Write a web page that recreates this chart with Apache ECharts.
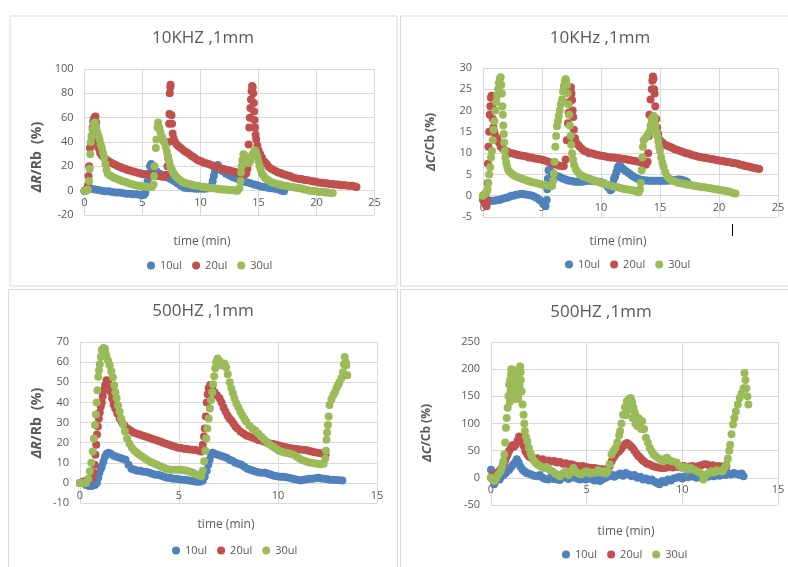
<!DOCTYPE html>
<html><head><meta charset="utf-8">
<script src="https://cdn.jsdelivr.net/npm/echarts@6/dist/echarts.min.js"></script>
<style>html,body{margin:0;padding:0;background:#fff}#c{width:788px;height:567px}</style>
</head><body><div id="c"></div>
<script>
// ---------- data (time in min, value in %) ----------
const seriesNames = ['10ul', '20ul', '30ul'];
const titles = ['10KHZ ,1mm', '10KHz ,1mm', '500HZ ,1mm', '500HZ ,1mm'];
const xTicks25 = [0, 5, 10, 15, 20, 25];
const xTicks15 = [0, 5, 10, 15];

// Panel 1: 10KHZ, dR/Rb
const p1_10ul = [[0,0],[0.2,1],[0.4,2],[0.6,1.5],[0.9,1],[1.2,0.5],[1.5,0],[1.8,-0.5],[2.1,-0.5],[2.4,-1],[2.7,-1.5],[3,-1.5],[3.3,-2],[3.6,-2.5],[3.9,-2.5],[4.2,-3],[4.5,-3],[4.8,-3.5],[5.1,-3.5],[5.25,-2],[5.35,2],[5.45,8],[5.55,14],[5.65,20],[5.75,22],[5.9,19],[6.2,16],[6.5,14],[6.8,12.5],[7.1,11],[7.4,9.5],[7.7,8],[8,6],[8.3,4],[8.6,2.5],[8.9,2],[9.2,2],[9.5,1.5],[9.8,1.5],[10.1,1.5],[10.4,1.5],[10.7,2],[10.95,4],[11.05,8],[11.15,12],[11.25,16],[11.35,19],[11.5,21],[11.7,18],[11.9,16],[12.2,14],[12.5,12.5],[12.8,11],[13.1,10],[13.4,8.5],[13.7,7.5],[14,7],[14.3,6],[14.6,5],[14.9,4.5],[15.2,3.5],[15.5,3],[15.8,2.5],[16.1,2],[16.4,1.5],[16.7,1],[17,0],[17.2,-0.5]];
const p1_20ul = [[0,0],[0.15,1],[0.3,4],[0.35,12],[0.4,20],[0.47,35],[0.57,37],[0.65,45],[0.7,52],[0.75,57],[0.85,60],[0.95,61],[1.0,56],[1.05,48],[1.1,40],[1.2,35],[1.35,31],[1.5,29],[1.7,27],[1.9,25.5],[2.1,24],[2.3,23],[2.5,22],[2.7,21],[2.9,20],[3.1,19.5],[3.3,18.5],[3.5,18],[3.7,17],[3.9,16.5],[4.1,16],[4.3,15.5],[4.5,15],[4.7,14.5],[4.9,14],[5.1,13.5],[5.3,13.5],[5.5,13],[5.7,13],[5.9,12.5],[6.1,12.5],[6.3,12],[6.5,12],[6.7,11.5],[6.9,11.5],[7.05,13],[7.15,20],[7.2,27],[7.25,40],[7.3,55],[7.32,63],[7.35,80],[7.4,85],[7.42,87],[7.5,62],[7.55,55],[7.6,47],[7.68,43],[7.8,40],[7.95,38],[8.1,36.5],[8.3,35],[8.5,33.5],[8.7,32],[8.9,31],[9.1,29.5],[9.3,28],[9.5,27],[9.7,25.5],[9.9,24.5],[10.1,24],[10.3,23],[10.5,22.5],[10.7,22],[10.9,21],[11.1,20.5],[11.3,20],[11.5,19],[11.7,18.5],[11.9,18],[12.1,17.5],[12.3,17],[12.5,16.5],[12.7,16],[12.9,15.5],[13.1,15],[13.3,14.5],[13.5,14],[13.7,13.5],[13.85,13.5],[13.95,14.5],[14.05,18],[14.1,25],[14.15,38],[14.2,52],[14.25,60],[14.3,68],[14.35,75],[14.4,82],[14.45,86],[14.5,85],[14.55,80],[14.6,72],[14.62,65],[14.65,58],[14.7,52],[14.75,46],[14.8,42],[14.9,37],[15,33],[15.15,30],[15.3,27],[15.5,24],[15.7,22],[15.9,19.5],[16.1,18],[16.3,17],[16.5,16],[16.7,15],[16.9,14.5],[17.1,13.5],[17.3,13],[17.5,12.5],[17.7,12],[17.9,11],[18.1,10.5],[18.3,10],[18.5,9.5],[18.7,9.5],[18.9,9],[19.1,8.5],[19.3,8.5],[19.5,8],[19.7,7.5],[19.9,7.5],[20.1,7],[20.3,6.5],[20.5,6.5],[20.7,6],[20.9,6],[21.1,5.5],[21.3,5.5],[21.5,5],[21.7,5],[21.9,5],[22.1,4.5],[22.3,4.5],[22.5,4.5],[22.7,4],[22.9,4],[23.1,4],[23.3,3.5],[23.45,3]];
const p1_30ul = [[0,0],[0.15,0],[0.3,1],[0.4,8],[0.45,18],[0.5,30],[0.55,40],[0.6,45],[0.7,50],[0.8,55],[0.9,56],[1.0,52],[1.1,48],[1.2,45],[1.3,42],[1.4,38],[1.5,35],[1.6,31],[1.7,27],[1.8,22],[1.9,17],[2.0,14],[2.2,12.5],[2.4,11.5],[2.6,10.5],[2.8,9.5],[3.0,9],[3.2,8],[3.4,7.5],[3.6,7],[3.8,6],[4.0,5.5],[4.2,5],[4.4,4.5],[4.6,4],[4.8,4],[5.0,3.5],[5.2,3.5],[5.4,3],[5.6,3],[5.8,3],[5.95,5],[6.0,12],[6.03,20],[6.15,35],[6.2,42],[6.3,52],[6.35,56],[6.45,52],[6.55,48],[6.7,44],[6.85,40],[7.0,36],[7.1,32],[7.2,28],[7.3,24],[7.4,20],[7.5,18],[7.6,15.5],[7.7,14],[7.85,12],[8.0,10.5],[8.2,9],[8.4,7.5],[8.6,6.5],[8.8,6],[9.0,5.5],[9.2,5],[9.4,4.5],[9.6,4],[9.8,4],[10.0,3.5],[10.2,3],[10.4,3],[10.6,2.5],[10.8,2.5],[11.0,2],[11.2,2],[11.4,1.5],[11.6,1.5],[11.8,1],[12.0,1],[12.2,1],[12.4,0.5],[12.6,0.5],[12.8,0.5],[13.0,0],[13.2,0],[13.35,2],[13.45,8],[13.5,15],[13.55,20],[13.6,25],[13.7,30],[13.8,29],[13.9,27],[14.0,25],[14.1,23],[14.2,23],[14.3,25],[14.4,28],[14.5,30],[14.6,32],[14.7,33],[14.8,31],[14.9,28],[15.0,24],[15.1,20],[15.2,17],[15.3,14],[15.45,12],[15.6,10],[15.8,9],[16.0,7.5],[16.2,6.5],[16.4,6],[16.6,5.5],[16.8,5],[17.0,4.5],[17.2,4],[17.4,4],[17.6,3.5],[17.8,3],[18.0,3],[18.2,2.5],[18.4,2],[18.6,2],[18.8,1.5],[19.0,1],[19.2,0.5],[19.4,0],[19.6,0],[19.8,-0.5],[20.0,-0.5],[20.2,-1],[20.4,-1],[20.6,-1],[20.8,-1.5],[21.0,-1.5],[21.2,-2],[21.4,-2]];

// Panel 2: 10KHz, dC/Cb
const p2_10ul = [[0,0],[0.2,-0.5],[0.4,-1.2],[0.6,-1.2],[0.8,-1.2],[1.0,-1.2],[1.2,-1],[1.4,-1],[1.6,-0.8],[1.8,-0.6],[2.0,-0.5],[2.2,-0.3],[2.4,0],[2.6,0],[2.8,0.2],[3.0,0.3],[3.2,0.4],[3.4,0.4],[3.6,0.3],[3.8,0.2],[4.0,0.1],[4.2,0],[4.4,-0.3],[4.6,-0.6],[4.8,-1],[5.0,-1.4],[5.15,-2],[5.3,-2.5],[5.4,-1],[5.45,1.5],[5.5,4],[5.55,6],[5.65,6],[5.8,5.5],[6.0,5],[6.2,4.7],[6.4,4.5],[6.6,4.3],[6.8,4],[7.0,3.8],[7.2,3.6],[7.4,3.5],[7.6,3.4],[7.8,3.3],[8.0,3.3],[8.2,3.3],[8.4,3.3],[8.6,3.4],[8.8,3.5],[9.0,3.5],[9.2,3.5],[9.4,3.5],[9.6,3.4],[9.8,3.3],[10.0,3.2],[10.2,3],[10.4,2.6],[10.6,2],[10.8,1.3],[10.9,1.5],[11.0,2.8],[11.1,4],[11.2,4.5],[11.3,5.5],[11.4,6.5],[11.5,7],[11.7,6.8],[11.9,6.2],[12.1,5.8],[12.3,5.4],[12.5,5],[12.7,4.6],[12.9,4.3],[13.1,4],[13.3,3.8],[13.5,3.7],[13.7,3.6],[13.9,3.6],[14.1,3.5],[14.3,3.5],[14.5,3.5],[14.7,3.5],[14.9,3.5],[15.1,3.5],[15.3,3.5],[15.5,3.5],[15.7,3.6],[15.9,3.6],[16.1,3.7],[16.3,3.7],[16.5,3.8],[16.7,3.8],[16.9,3.7],[17.1,3.5],[17.3,3.2]];
const p2_20ul = [[0,-1],[0.1,-1.5],[0.2,-2],[0.3,-2.5],[0.35,-1],[0.4,3],[0.42,7.5],[0.46,11.5],[0.52,15],[0.57,19],[0.62,21],[0.67,23],[0.73,23.5],[0.78,21],[0.83,18],[0.88,16],[0.95,15],[1.05,14],[1.2,13.5],[1.35,12.5],[1.5,11.5],[1.7,11],[1.9,10.5],[2.1,10.3],[2.3,10],[2.5,10],[2.7,9.8],[2.9,9.6],[3.1,9.5],[3.3,9.4],[3.5,9.3],[3.7,9.2],[3.9,9],[4.1,9],[4.3,8.8],[4.5,8.7],[4.7,8.6],[4.9,8.5],[5.1,8.4],[5.3,8.2],[5.5,8],[5.7,7.8],[5.9,7.6],[6.1,7.4],[6.3,7.2],[6.5,7],[6.7,7],[6.85,7],[7.0,8.5],[7.1,13],[7.2,17],[7.26,19.5],[7.33,22],[7.4,25],[7.45,25.5],[7.5,24],[7.55,22.5],[7.6,20],[7.65,18.5],[7.7,15.5],[7.8,13.5],[7.9,12.5],[8.05,12],[8.2,11.5],[8.4,11],[8.6,10.5],[8.8,10.3],[9.0,10],[9.2,10],[9.4,9.8],[9.6,9.6],[9.8,9.5],[10.0,9.4],[10.2,9.3],[10.4,9.2],[10.6,9.1],[10.8,9],[11.0,9],[11.2,8.9],[11.4,8.8],[11.6,8.8],[11.8,8.7],[12.0,8.6],[12.2,8.5],[12.4,8.4],[12.6,8.3],[12.8,8.2],[13.0,8.1],[13.2,8],[13.4,7.8],[13.6,7.5],[13.8,7.3],[13.95,8],[14.0,10],[14.05,14],[14.1,19],[14.2,22.6],[14.3,25],[14.35,27],[14.4,28],[14.45,27.5],[14.5,25],[14.55,24],[14.6,21],[14.68,18],[14.75,16],[14.85,14.5],[15.0,13],[15.2,12.5],[15.4,12],[15.6,11.8],[15.8,11.5],[16.0,11.3],[16.2,11],[16.4,10.8],[16.6,10.6],[16.8,10.4],[17.0,10.2],[17.2,10],[17.4,9.9],[17.6,9.7],[17.8,9.5],[18.0,9.4],[18.2,9.2],[18.4,9.1],[18.6,9],[18.8,8.9],[19.0,8.8],[19.2,8.7],[19.4,8.6],[19.6,8.5],[19.8,8.4],[20.0,8.3],[20.2,8.2],[20.4,8.1],[20.6,8],[20.8,7.9],[21.0,7.8],[21.2,7.7],[21.4,7.6],[21.6,7.5],[21.8,7.3],[22.0,7.2],[22.2,7],[22.4,6.9],[22.6,6.8],[22.8,6.6],[23.0,6.5],[23.2,6.4],[23.4,6.3]];
const p2_30ul = [[0,0],[0.1,0.3],[0.2,0.5],[0.3,0.8],[0.38,1.5],[0.45,3],[0.52,5],[0.6,6.7],[0.68,9],[0.76,10.5],[0.82,13],[0.9,15.5],[0.97,17.5],[1.05,20],[1.12,22],[1.2,23.5],[1.28,25],[1.35,26.5],[1.42,27.5],[1.5,27.8],[1.55,26],[1.6,24],[1.64,21],[1.68,19],[1.72,16.5],[1.76,14.5],[1.8,12.5],[1.84,10.5],[1.9,9],[1.97,7.8],[2.05,6.8],[2.15,6],[2.3,5.5],[2.5,5],[2.7,4.7],[2.9,4.4],[3.1,4.2],[3.3,4],[3.5,3.8],[3.7,3.6],[3.9,3.4],[4.1,3.2],[4.3,3.1],[4.5,3],[4.7,2.8],[4.9,2.7],[5.1,2.6],[5.3,2.5],[5.5,2.4],[5.7,2.3],[5.85,2.3],[5.95,3.5],[6.0,5.2],[6.07,8],[6.13,11.5],[6.2,14],[6.27,16.3],[6.35,17.5],[6.42,18.7],[6.5,20],[6.6,21.5],[6.7,22.6],[6.78,24.5],[6.85,25.8],[6.93,26.8],[7.0,27.4],[7.06,27],[7.12,26],[7.18,24],[7.24,21.5],[7.3,19],[7.36,16.5],[7.42,14],[7.48,12],[7.55,10],[7.63,8.5],[7.72,7.2],[7.85,6.3],[8.0,5.6],[8.2,5],[8.4,4.7],[8.6,4.4],[8.8,4.2],[9.0,4],[9.2,3.8],[9.4,3.6],[9.6,3.4],[9.8,3.2],[10.0,3],[10.2,2.9],[10.4,2.7],[10.6,2.5],[10.8,2.4],[11.0,2.2],[11.2,2.1],[11.4,2],[11.6,1.9],[11.8,1.7],[12.0,1.6],[12.2,1.5],[12.4,1.4],[12.6,1.3],[12.8,1.2],[13.0,1],[13.2,0.8],[13.3,1.5],[13.38,3],[13.45,6],[13.5,9],[13.55,11.5],[13.62,13],[13.75,13.5],[13.9,14],[14.0,14.5],[14.1,15],[14.2,16.5],[14.3,17.9],[14.4,18.5],[14.48,18.7],[14.55,18],[14.62,16.5],[14.7,15],[14.78,14],[14.86,12.8],[14.93,11.5],[15.0,10.5],[15.1,9],[15.2,7.8],[15.3,6.8],[15.45,5.5],[15.6,4.6],[15.8,4],[16.0,3.6],[16.2,3.4],[16.4,3.2],[16.6,3],[16.8,2.9],[17.0,2.8],[17.2,2.7],[17.4,2.6],[17.6,2.5],[17.8,2.4],[18.0,2.3],[18.2,2.2],[18.4,2.1],[18.6,2],[18.8,2],[19.0,1.9],[19.2,1.8],[19.4,1.7],[19.6,1.6],[19.8,1.5],[20.0,1.4],[20.2,1.3],[20.4,1.2],[20.6,1.1],[20.8,1],[21.0,0.8],[21.2,0.6],[21.4,0.5]];

// Panel 3: 500HZ, dR/Rb
const p3_10ul = [[0,0],[0.15,0],[0.3,-1],[0.45,-1.5],[0.6,-1.5],[0.75,-1],[0.85,0],[0.92,2.5],[0.98,5],[1.05,7],[1.1,8],[1.18,10.5],[1.26,13],[1.35,14.5],[1.45,15],[1.55,14.5],[1.7,13.5],[1.85,13],[2.0,12.5],[2.15,12],[2.3,11.5],[2.45,9],[2.6,7],[2.75,6.5],[2.9,6],[3.05,6],[3.2,5.5],[3.35,5.5],[3.5,5],[3.65,4.5],[3.8,4],[3.95,4],[4.1,3.5],[4.25,3],[4.4,2.5],[4.55,2.5],[4.7,2],[4.85,2],[5.0,1.8],[5.15,1.6],[5.3,1.5],[5.45,1.3],[5.6,1],[5.75,0.8],[5.9,0.5],[6.05,0.5],[6.2,1],[6.3,3],[6.4,6],[6.48,9],[6.55,11.5],[6.62,14],[6.7,15],[6.8,14.5],[6.95,14],[7.1,13.5],[7.25,13],[7.4,12.5],[7.55,11.5],[7.7,11],[7.85,10],[8.0,9.5],[8.15,9],[8.3,8],[8.45,7],[8.6,6.5],[8.75,6],[8.9,5.5],[9.05,5.2],[9.2,5],[9.35,5],[9.5,4.5],[9.65,4],[9.8,3.5],[9.95,3.3],[10.1,3],[10.25,3],[10.4,2.8],[10.55,2.5],[10.7,2.2],[10.85,1.8],[11.0,1.5],[11.15,1.2],[11.3,1.5],[11.45,1.8],[11.6,2],[11.75,2],[11.9,2.3],[12.05,2.5],[12.2,2.2],[12.35,2],[12.5,1.8],[12.65,1.6],[12.8,1.5],[12.95,1.4],[13.1,1.3],[13.25,1.2]];
const p3_20ul = [[0,0],[0.15,0.5],[0.3,1],[0.45,1.5],[0.6,2.5],[0.68,5],[0.74,9],[0.78,14],[0.82,19],[0.86,24],[0.9,28],[0.95,32],[1.0,35],[1.05,38],[1.1,40],[1.15,43],[1.2,46],[1.27,48.5],[1.34,51],[1.42,50],[1.5,48.5],[1.56,45],[1.62,42],[1.7,39],[1.78,37],[1.88,34.5],[2.0,32],[2.12,30],[2.25,28.5],[2.4,27],[2.55,26],[2.7,25],[2.85,24.5],[3.0,24],[3.15,23.5],[3.3,23],[3.45,22.5],[3.6,22],[3.75,21.5],[3.9,21],[4.05,20.5],[4.2,20],[4.35,19.5],[4.5,19],[4.65,18.5],[4.8,18],[4.95,17.5],[5.1,17.3],[5.25,17],[5.4,16.8],[5.55,16.6],[5.7,16.5],[5.85,16.3],[6.0,16],[6.12,15.6],[6.2,19],[6.26,23],[6.3,27],[6.35,33],[6.4,40],[6.45,44],[6.5,47],[6.58,48.6],[6.68,47.5],[6.8,45],[6.92,43.5],[7.05,42],[7.15,40],[7.25,37.5],[7.35,35.5],[7.45,33.5],[7.55,32],[7.65,31],[7.75,29.5],[7.85,28],[7.95,27],[8.1,25.5],[8.25,24.5],[8.4,23.5],[8.55,23],[8.7,22.5],[8.85,22],[9.0,21.3],[9.15,21],[9.3,20.5],[9.45,20],[9.6,19.6],[9.75,19.3],[9.9,19],[10.05,18.6],[10.2,18.2],[10.35,17.8],[10.5,17.5],[10.65,17.2],[10.8,17],[10.95,16.8],[11.1,16.6],[11.25,16.5],[11.4,16.3],[11.55,16],[11.7,15.6],[11.85,15.2],[12.0,15],[12.15,14.7],[12.3,14.4],[12.4,14]];
const p3_30ul = [[0,0],[0.15,0],[0.3,0],[0.42,2],[0.5,5.8],[0.57,10],[0.64,15.6],[0.7,22],[0.76,28.8],[0.8,34],[0.84,40],[0.88,46],[0.92,52.7],[0.96,56],[1.0,59],[1.05,62.5],[1.1,66],[1.18,67],[1.26,66.7],[1.3,64],[1.34,62.6],[1.42,60.5],[1.5,58.5],[1.58,55.5],[1.66,52.5],[1.73,48.5],[1.79,45],[1.85,42],[1.92,38.5],[2.0,35.4],[2.08,32],[2.17,29],[2.27,25.5],[2.38,22],[2.5,19.5],[2.62,17.5],[2.75,16],[2.88,15],[3.0,14],[3.15,13],[3.3,12],[3.45,11],[3.6,10.3],[3.75,9.6],[3.9,9],[4.05,8.3],[4.2,7.6],[4.35,7],[4.5,6.6],[4.65,6.5],[4.8,6.5],[4.95,6.5],[5.1,6.5],[5.25,6.3],[5.4,6],[5.55,5.5],[5.7,5],[5.85,4.3],[6.0,3.8],[6.12,3.3],[6.2,6],[6.27,10.7],[6.33,16],[6.38,22],[6.43,27],[6.5,32],[6.56,37],[6.62,41],[6.68,45],[6.72,49],[6.78,53],[6.83,57],[6.88,60],[6.95,61.8],[7.05,60.5],[7.15,58.5],[7.23,58.5],[7.3,59.3],[7.38,57.5],[7.46,54],[7.56,50],[7.64,47],[7.72,44.5],[7.8,42],[7.9,39.5],[8.0,37.5],[8.1,35.4],[8.2,33.5],[8.3,32],[8.4,30.5],[8.55,28.5],[8.7,27],[8.85,26],[9.0,24.5],[9.15,23],[9.3,21.5],[9.45,20.3],[9.6,19],[9.75,18],[9.9,17],[10.05,16],[10.2,15.5],[10.35,15],[10.5,14.8],[10.65,14.4],[10.8,14],[10.95,13],[11.1,12],[11.25,11.2],[11.4,10.7],[11.55,10.3],[11.7,10],[11.85,9.7],[12.0,9.5],[12.15,9.3],[12.3,9.5],[12.38,12],[12.42,16],[12.45,21.4],[12.48,25],[12.52,28.8],[12.56,33],[12.6,38.7],[12.7,41.5],[12.8,43.7],[12.88,45],[12.95,47],[13.03,48.5],[13.1,50],[13.2,52],[13.28,55],[13.33,59],[13.37,62.6],[13.42,60],[13.45,58.5],[13.5,53.5]];

// Panel 4: 500HZ, dC/Cb
const p4_10ul = [[0,15],[0.08,5],[0.17,-12],[0.25,-5],[0.35,0],[0.45,-3],[0.55,3],[0.65,5],[0.75,8],[0.85,12],[0.95,15],[1.05,20],[1.15,24],[1.25,28],[1.35,34],[1.45,28],[1.55,20],[1.65,15],[1.75,12],[1.85,9],[1.95,8],[2.1,6],[2.25,4],[2.4,3],[2.55,5],[2.7,0],[2.85,-2],[3.0,-3],[3.15,2],[3.3,-2],[3.45,-3],[3.6,-4],[3.75,0],[3.9,3],[4.05,-2],[4.2,0],[4.35,2],[4.5,-1],[4.65,-3],[4.8,0],[4.95,-3],[5.1,2],[5.25,-2],[5.4,-5],[5.55,-3],[5.7,-6],[5.85,-2],[6.0,0],[6.15,3],[6.3,6],[6.45,2],[6.6,5],[6.75,8],[6.9,4],[7.05,9],[7.2,6],[7.35,3],[7.5,5],[7.65,0],[7.8,2],[7.95,-3],[8.1,-1],[8.25,-5],[8.4,-3],[8.55,-7],[8.7,-10],[8.8,-12],[8.95,-6],[9.1,-8],[9.25,-3],[9.4,-5],[9.55,-1],[9.7,0],[9.85,2],[10.0,-1],[10.15,3],[10.3,1],[10.45,4],[10.6,2],[10.75,0],[10.9,3],[11.05,1],[11.2,4],[11.35,2],[11.5,5],[11.65,3],[11.8,6],[11.95,4],[12.1,7],[12.25,5],[12.4,8],[12.55,6],[12.7,9],[12.85,7],[13.0,5],[13.1,8],[13.2,3]];
const p4_20ul = [[0,0],[0.08,3],[0.17,6],[0.3,9],[0.42,12],[0.5,15],[0.58,20],[0.66,26],[0.74,32],[0.8,38],[0.87,43],[0.95,50],[1.04,55],[1.12,60],[1.2,57],[1.3,61],[1.38,68],[1.47,76],[1.55,72],[1.65,67],[1.72,58],[1.8,49],[1.9,43],[2.0,39],[2.1,37],[2.25,35],[2.4,36],[2.55,33],[2.7,34],[2.85,31],[3.0,32],[3.15,30],[3.3,31],[3.45,28],[3.6,29],[3.75,26],[3.9,27],[4.05,24.5],[4.2,25],[4.35,23],[4.5,22],[4.65,21],[4.8,22],[4.95,20],[5.1,19],[5.25,18],[5.4,18],[5.55,17],[5.7,16],[5.85,16],[6.0,15],[6.1,15],[6.2,22],[6.3,30],[6.4,37],[6.5,42],[6.6,46],[6.7,49],[6.8,53],[6.9,58],[7.0,62],[7.1,64],[7.2,62],[7.3,58],[7.4,55],[7.5,50],[7.6,45],[7.7,40],[7.8,37],[7.9,33],[8.0,30],[8.15,26],[8.3,24.5],[8.45,22],[8.6,20],[8.75,19],[8.9,18],[9.05,18],[9.2,19],[9.35,20],[9.5,19],[9.65,21],[9.8,20],[9.95,21],[10.1,22],[10.25,20],[10.4,21],[10.55,22],[10.7,20],[10.85,22],[11.0,23],[11.15,25],[11.3,24.5],[11.45,22],[11.6,23],[11.75,21],[11.9,22],[12.05,21],[12.2,20],[12.3,21]];
const p4_30ul = [[0,0],[0.08,-3],[0.17,-6],[0.28,0],[0.38,6],[0.5,12],[0.58,20],[0.64,30],[0.7,43],[0.74,65],[0.78,92],[0.82,110],[0.87,129],[0.91,150],[0.95,172],[0.98,140],[1.0,180],[1.02,160],[1.04,190],[1.06,200],[1.08,175],[1.1,150],[1.13,199],[1.15,170],[1.18,195],[1.2,185],[1.22,160],[1.25,145],[1.28,195],[1.3,178],[1.33,150],[1.35,160],[1.38,170],[1.4,185],[1.42,145],[1.45,155],[1.47,199],[1.5,170],[1.52,205],[1.55,195],[1.56,180],[1.6,159],[1.65,135],[1.7,116],[1.74,100],[1.77,86],[1.83,75],[1.9,67],[1.98,55],[2.07,45],[2.15,38],[2.25,31],[2.35,27],[2.45,24],[2.6,21],[2.75,18],[2.9,20],[3.05,15],[3.2,12],[3.35,8],[3.5,5],[3.6,3],[3.75,8],[3.9,12],[4.05,5],[4.2,10],[4.3,18],[4.4,12],[4.55,8],[4.7,6],[4.85,10],[5.0,12],[5.15,8],[5.3,10],[5.45,9],[5.6,14],[5.75,10],[5.9,12],[6.0,8],[6.1,12],[6.2,25],[6.3,43],[6.4,50],[6.5,55],[6.6,65],[6.7,78],[6.75,86],[6.82,100],[6.9,116],[7.0,130],[7.05,115],[7.1,141],[7.15,125],[7.2,145],[7.25,135],[7.3,147],[7.38,140],[7.4,110],[7.45,129],[7.52,120],[7.55,100],[7.6,112],[7.65,95],[7.7,110],[7.75,100],[7.8,106],[7.85,90],[7.9,104],[8.0,90],[8.1,74],[8.2,65],[8.3,55],[8.4,49],[8.5,43],[8.6,40],[8.7,37],[8.85,34],[9.0,30],[9.1,35],[9.2,37],[9.35,32],[9.5,30],[9.7,28],[9.85,22],[10.0,18],[10.15,20],[10.3,15],[10.45,18],[10.6,15],[10.75,12],[10.9,10],[11.05,6],[11.1,-3],[11.2,4],[11.35,8],[11.5,12],[11.65,10],[11.8,14],[11.95,12],[12.1,12],[12.2,18],[12.3,24.5],[12.38,35],[12.45,50],[12.5,61],[12.57,80],[12.65,98],[12.72,110],[12.8,122],[12.9,135],[13.0,147],[13.1,155],[13.2,165],[13.25,193],[13.3,180],[13.35,165],[13.4,150],[13.45,135]];

// ---------- chart ----------
const colors = ['#4F81BD', '#C0504D', '#9BBB59'];
const txt = '#595959';
const ff = '"Open Sans", "Liberation Sans", sans-serif';
const panelData = [
  [p1_10ul, p1_20ul, p1_30ul],
  [p2_10ul, p2_20ul, p2_30ul],
  [p3_10ul, p3_20ul, p3_30ul],
  [p4_10ul, p4_20ul, p4_30ul]
];
const gridsPos = [
  {left: 84.5, top: 69, width: 290, height: 146},
  {left: 483, top: 68, width: 295, height: 149},
  {left: 80, top: 342, width: 297, height: 161},
  {left: 491, top: 342, width: 287, height: 163}
];
const yCfg = [
  {min: -20, max: 100, interval: 20},
  {min: -5, max: 30, interval: 5},
  {min: -10, max: 70, interval: 10},
  {min: -50, max: 250, interval: 50}
];
const xMax = [xTicks25[xTicks25.length-1], xTicks25[xTicks25.length-1], xTicks15[xTicks15.length-1], xTicks15[xTicks15.length-1]];
const titlePos = [[203, 30], [600, 30], [203, 303], [601, 304]];
const legendPos = [[147, 260], [565, 259], [172, 545], [562, 549]];
const xNamePos = [[202, 242], [618, 242], [226, 525], [626, 532]];
const yNamePos = [[37, 157], [431, 142], [37, 423], [427, 433]];
const yNames = ['{i|ΔR}{b|/Rb  (%)}', '{i|ΔC}{b|/Cb (%)}', '{i|ΔR}{b|/Rb  (%)}', '{i|ΔC}{b|/Cb (%)}'];
const frames = [[10, 16, 387, 270], [400.5, 16, 390, 270], [8.5, 289.5, 389, 280], [400.5, 289.5, 390, 280]];

// the horizontal axis crosses at value 0 (Excel style): lift it from the grid bottom to the zero line
const zeroOffset = (g, y) => -g.height * (0 - y.min) / (y.max - y.min);

const option = {
  animation: false,
  backgroundColor: '#fff',
  textStyle: {fontFamily: ff},
  title: titles.map((t, i) => ({
    text: t, left: titlePos[i][0], top: titlePos[i][1], textAlign: 'center', padding: 0,
    textStyle: {fontSize: 17, fontWeight: 'normal', color: txt, fontFamily: ff}
  })),
  legend: gridsPos.map((g, i) => ({
    data: seriesNames, left: legendPos[i][0], top: legendPos[i][1], icon: 'circle',
    itemWidth: 8, itemHeight: 8, itemGap: 10, padding: 0,
    textStyle: {fontSize: 11, color: txt, fontFamily: ff}
  })),
  grid: gridsPos.map(g => Object.assign({containLabel: false}, g)),
  xAxis: gridsPos.map((g, i) => ({
    type: 'value', gridIndex: i, min: 0, max: xMax[i], interval: 5,
    offset: zeroOffset(g, yCfg[i]),
    axisLine: {show: true, onZero: false, lineStyle: {color: '#d9d9d9'}},
    axisTick: {show: false},
    axisLabel: {color: txt, fontSize: 11, margin: 7, fontFamily: ff},
    splitLine: {show: true, lineStyle: {color: '#d9d9d9'}}
  })),
  yAxis: gridsPos.map((g, i) => ({
    type: 'value', gridIndex: i, min: yCfg[i].min, max: yCfg[i].max, interval: yCfg[i].interval,
    axisLine: {show: true, onZero: false, lineStyle: {color: '#d9d9d9'}},
    axisTick: {show: false},
    axisLabel: {color: txt, fontSize: 11, margin: 11, fontFamily: ff},
    splitLine: {show: true, lineStyle: {color: '#d9d9d9'}}
  })),
  series: [],
  graphic: []
};

panelData.forEach((arrs, i) => {
  arrs.forEach((d, k) => {
    option.series.push({
      type: 'scatter', name: seriesNames[k], xAxisIndex: i, yAxisIndex: i,
      data: d, symbolSize: 8, itemStyle: {color: colors[k], opacity: 1},
      emphasis: {disabled: true}
    });
  });
});

frames.forEach(f => option.graphic.push({
  type: 'rect', shape: {x: f[0], y: f[1], width: f[2], height: f[3]}, silent: true, z: -10,
  style: {fill: 'none', stroke: '#d9d9d9', lineWidth: 1}
}));
xNamePos.forEach(p => option.graphic.push({
  type: 'text', x: p[0], y: p[1], silent: true,
  style: {text: 'time (min)', fill: txt, fontSize: 12, fontFamily: ff, align: 'center', verticalAlign: 'middle'}
}));
yNamePos.forEach((p, i) => option.graphic.push({
  type: 'text', x: p[0], y: p[1], rotation: Math.PI / 2, silent: true,
  style: {
    text: yNames[i], fill: txt, fontSize: 13, fontFamily: ff, align: 'center', verticalAlign: 'middle',
    rich: {
      i: {fontStyle: 'italic', fontWeight: 'bold', fontSize: i % 2 ? 13 : 14, fill: txt, fontFamily: ff},
      b: {fontWeight: 'bold', fontSize: i % 2 ? 12 : 14, fill: txt, fontFamily: ff}
    }
  }
}));
// small vertical cursor mark seen in the upper-right panel
option.graphic.push({type: 'line', shape: {x1: 732.5, y1: 224, x2: 732.5, y2: 236}, silent: true,
  style: {stroke: '#000', lineWidth: 1}});

const chart = echarts.init(document.getElementById('c'));
chart.setOption(option);
</script>
</body></html>
